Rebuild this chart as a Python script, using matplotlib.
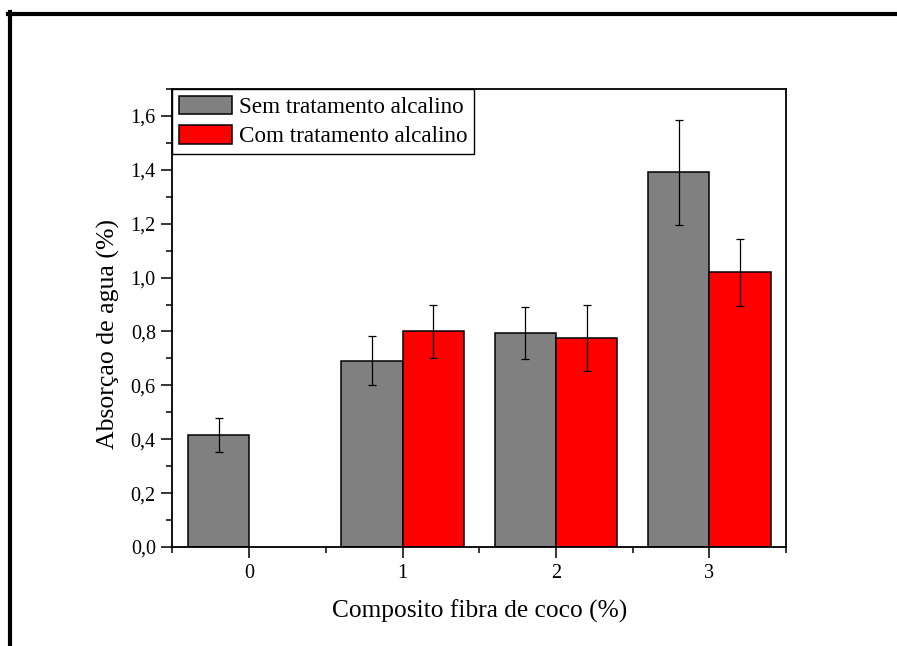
import numpy as np
import matplotlib
matplotlib.use("Agg")
import matplotlib.pyplot as plt
from matplotlib.lines import Line2D
from matplotlib.ticker import FuncFormatter, MultipleLocator


groups = [0, 1, 2, 3]
sem_vals = [0.416, 0.692, 0.794, 1.391]
sem_err = [0.062, 0.092, 0.095, 0.195]
com_vals = [np.nan, 0.801, 0.775, 1.020]
com_err = [np.nan, 0.099, 0.122, 0.125]
labels = ["Sem tratamento alcalino", "Com tratamento alcalino"]

plt.rcParams['font.family'] = ['Liberation Serif', 'DejaVu Serif']

fig = plt.figure(figsize=(8.97, 6.46), dpi=100)
ax = fig.add_axes([0.1923, 0.1533, 0.6840, 0.7089])

x = np.array(groups, dtype=float)
w = 0.4
com = np.array(com_vals)
ok = ~np.isnan(com)

ax.bar(x - w / 2, sem_vals, w, color="#808080", edgecolor="black",
       linewidth=1.1, label=labels[0], zorder=2)
ax.bar(x[ok] + w / 2, com[ok], w, color="#ff0000", edgecolor="black",
       linewidth=1.1, label=labels[1], zorder=2)
ax.errorbar(x - w / 2, sem_vals, yerr=sem_err, fmt="none", ecolor="black",
            elinewidth=0.9, capsize=3, capthick=0.9, zorder=3)
ax.errorbar(x[ok] + w / 2, com[ok], yerr=np.array(com_err)[ok], fmt="none",
            ecolor="black", elinewidth=0.9, capsize=3, capthick=0.9, zorder=3)

ax.set_xlim(-0.5, 3.5)
ax.set_ylim(0, 1.7)
ax.set_xticks(groups)
ax.xaxis.set_minor_locator(MultipleLocator(0.5))
ax.yaxis.set_major_locator(MultipleLocator(0.2))
ax.yaxis.set_minor_locator(MultipleLocator(0.1))
ax.yaxis.set_major_formatter(FuncFormatter(lambda v, p: ("%.1f" % v).replace(".", ",")))

ax.tick_params(which="major", direction="out", length=8, width=1.1,
               labelsize=14.5, pad=4)
ax.tick_params(which="minor", direction="out", length=4, width=1.1)
for s in ax.spines.values():
  s.set_linewidth(1.3)

ax.set_xlabel("Composito fibra de coco (%)", fontsize=18.3, labelpad=12)
ax.set_ylabel("Absorçao de agua (%)", fontsize=18.5)
ax.yaxis.set_label_coords(-0.0856, 0.465)

leg = ax.legend(loc="upper left", borderaxespad=0, fontsize=16.7,
                fancybox=False, edgecolor="black", framealpha=1,
                handlelength=2.25, handleheight=0.85, handletextpad=0.3,
                labelspacing=0.3, borderpad=0.3)
leg.get_frame().set_linewidth(1.0)

# outer black frame (left and top edges)
fig.add_artist(Line2D([9.5 / 897, 9.5 / 897], [0, 1 - 12 / 646],
                      transform=fig.transFigure, color="black", linewidth=3))
fig.add_artist(Line2D([8 / 897, 1], [1 - 13.5 / 646, 1 - 13.5 / 646],
                      transform=fig.transFigure, color="black", linewidth=3))

fig.savefig("out.png", dpi=100)
